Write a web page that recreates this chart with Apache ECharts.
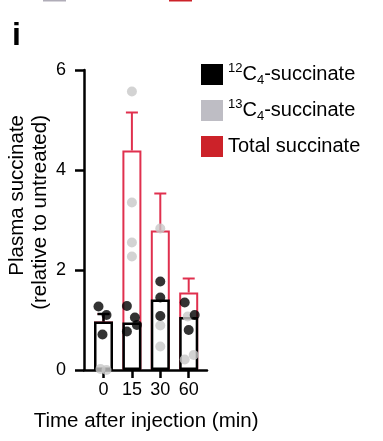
<!DOCTYPE html>
<html>
<head>
<meta charset="utf-8">
<script src="https://cdn.jsdelivr.net/npm/echarts@6/dist/echarts.min.js"></script>
<style>
html,body{margin:0;padding:0;background:#fff;}
#c{width:383px;height:441px;}
</style>
</head>
<body>
<div id="c"></div>
<script>
// ---- data ----
const categories = ['0', '15', '30', '60'];
const c12Mean = [0.97, 0.95, 1.41, 1.06];
const c12Sem = [0.15, 0.10, 0.17, 0.17];
const totalMean = [0.97, 4.39, 2.79, 1.55];
const totalSem = [0.15, 0.76, 0.74, 0.28];
const c12Points = [[1.27, 1.10, 0.71], [1.28, 1.05, 0.90, 0.77], [1.77, 1.45, 1.08], [1.35, 1.10, 0.80]];
const c13Points = [[0.02, 0.00], [5.57, 3.35, 2.55, 2.27], [2.83, 0.89, 0.47], [1.07, 0.30, 0.21]];
const yTicks = [0, 2, 4, 6];
// horizontal jitter of dots (pixels, styling only)
const c12Jitter = [[-5, 3, -1], [-5, 3, 5, -5], [0, 0, 0], [-4, 6, 0]];
const c13Jitter = [[-3, 3], [0, 0, 0, 0], [0, 0, 0], [-1, 5, -4]];

const FONT = 'Liberation Sans, Arial, Helvetica, sans-serif';
const RED = '#e0304e';
const RED_LEG = '#cc2229';
const GRAY_DOT = '#c8c8c8';
const GRAY_LEG = '#aeadb5';

function dots(points, jitter) {
  const out = [];
  points.forEach((arr, i) => arr.forEach((v, k) => {
    out.push({ value: [i, v], symbolOffset: [jitter[i][k], 0] });
  }));
  return out;
}

function errRender(color, lw, both) {
  return function (params, api) {
    const x = api.value(0), lo = api.value(1), hi = api.value(2);
    const pLo = api.coord([x, lo]);
    const pHi = api.coord([x, hi]);
    const hw = 6;
    const st = { stroke: color, lineWidth: lw };
    const ch = [
      { type: 'line', shape: { x1: pHi[0], y1: pHi[1], x2: pLo[0], y2: pLo[1] }, style: st },
      { type: 'line', shape: { x1: pHi[0] - hw, y1: pHi[1], x2: pHi[0] + hw, y2: pHi[1] }, style: st }
    ];
    if (both) ch.push({ type: 'line', shape: { x1: pLo[0] - hw, y1: pLo[1], x2: pLo[0] + hw, y2: pLo[1] }, style: st });
    return { type: 'group', children: ch };
  };
}

const legendNames = {
  '12C': '{sup|12}C{sub|4}-succinate',
  '13C': '{sup|13}C{sub|4}-succinate',
  'Total': 'Total succinate'
};

const chart = echarts.init(document.getElementById('c'), null, { renderer: 'canvas' });
chart.setOption({
  animation: false,
  backgroundColor: '#fff',
  textStyle: { fontFamily: FONT },
  title: {
    text: 'i', left: 12, top: 20, padding: 0,
    textStyle: { fontSize: 32, fontWeight: 'bold', color: '#000', fontFamily: FONT }
  },
  legend: {
    orient: 'vertical', left: 201, top: 61.5, padding: 0,
    itemWidth: 22, itemHeight: 21, itemGap: 10, selectedMode: false,
    icon: 'rect',
    data: [
      { name: '12C', itemStyle: { color: '#000', borderWidth: 0 } },
      { name: '13C', itemStyle: { color: GRAY_LEG, borderWidth: 0 } },
      { name: 'Total', itemStyle: { color: RED_LEG, borderWidth: 0 } }
    ],
    formatter: n => legendNames[n],
    textStyle: {
      fontSize: 20, color: '#000', fontFamily: FONT, lineHeight: 26,
      rich: {
        sup: { fontSize: 13, fontFamily: FONT, color: '#000', padding: [0, 0, 12, 0] },
        sub: { fontSize: 13, fontFamily: FONT, color: '#000', padding: [12, 0, 0, 0] }
      }
    }
  },
  graphic: [
    { type: 'rect', shape: { x: 43, y: 0, width: 23, height: 1.5 }, style: { fill: '#b0adb8' } },
    { type: 'rect', shape: { x: 169, y: 0, width: 23, height: 1.5 }, style: { fill: RED_LEG } },
    {
      type: 'text', x: 28.5, y: 115, rotation: Math.PI / 2,
      style: {
        text: 'Plasma succinate\n(relative to untreated)',
        fontSize: 20.5, fontFamily: FONT, fill: '#000', lineHeight: 23,
        align: 'right', verticalAlign: 'middle',
        textAlign: 'right', textVerticalAlign: 'middle'
      }
    }
  ],
  grid: [
    { left: 89.3, width: 113.6, top: 70, height: 300 },
    { left: 84, width: 123, top: 70, height: 300 }
  ],
  xAxis: [
    {
      gridIndex: 0, type: 'category', data: categories,
      axisLine: { show: false },
      axisTick: { show: true, alignWithLabel: true, length: 8, lineStyle: { color: '#000', width: 2.5 } },
      axisLabel: { fontSize: 18, color: '#000', margin: 11, fontFamily: FONT },
      name: 'Time after injection (min)', nameLocation: 'middle', nameGap: 41,
      nameTextStyle: { fontSize: 20.5, color: '#000', fontFamily: FONT }
    },
    {
      gridIndex: 1, type: 'value', min: 0, max: 1,
      axisLine: { show: true, lineStyle: { color: '#000', width: 2.5 } },
      axisTick: { show: false }, axisLabel: { show: false }, splitLine: { show: false }
    }
  ],
  yAxis: [
    { gridIndex: 0, type: 'value', min: 0, max: 6, interval: 2, show: false },
    {
      gridIndex: 1, type: 'value', min: yTicks[0], max: yTicks[yTicks.length - 1], interval: 2,
      axisLine: { show: true, lineStyle: { color: '#000', width: 2.5 } },
      axisTick: { show: true, length: 9, lineStyle: { color: '#000', width: 2.5 } },
      axisLabel: { fontSize: 18, color: '#000', margin: 18, fontFamily: FONT },
      splitLine: { show: false }
    }
  ],
  series: [
    {
      name: 'Total', type: 'bar', xAxisIndex: 0, yAxisIndex: 0, data: totalMean,
      barWidth: 19, itemStyle: { color: '#fff', borderColor: RED, borderWidth: 2 }
    },
    {
      name: 'TotalErr', type: 'custom', xAxisIndex: 0, yAxisIndex: 0,
      renderItem: errRender(RED, 2, false),
      data: totalMean.map((m, i) => [i, m, m + totalSem[i]])
    },
    {
      name: '12C', type: 'bar', xAxisIndex: 0, yAxisIndex: 0, data: c12Mean,
      barWidth: 19, barGap: '-100%', itemStyle: { color: '#fff', borderColor: '#000', borderWidth: 2.5 }
    },
    {
      name: '13C', type: 'scatter', xAxisIndex: 0, yAxisIndex: 0,
      symbolSize: 10, itemStyle: { color: GRAY_DOT },
      data: dots(c13Points, c13Jitter)
    },
    {
      name: '12CDots', type: 'scatter', xAxisIndex: 0, yAxisIndex: 0,
      symbolSize: 10, itemStyle: { color: '#000' },
      data: dots(c12Points, c12Jitter)
    },
    {
      name: '12CErr', type: 'custom', xAxisIndex: 0, yAxisIndex: 0,
      renderItem: errRender('#000', 2.5, true),
      data: c12Mean.map((m, i) => [i, m - c12Sem[i], m + c12Sem[i]])
    }
  ]
});
</script>
</body>
</html>
